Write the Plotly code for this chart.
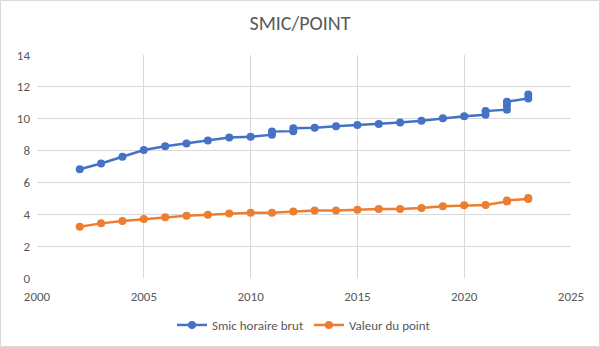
import plotly.graph_objects as go

# Data
smic_years = [2002, 2003, 2004, 2005, 2006, 2007, 2008, 2009, 2010, 2011, 2011,
              2012, 2012, 2013, 2014, 2015, 2016, 2017, 2018, 2019, 2020,
              2021, 2021, 2022, 2022, 2022, 2023, 2023]
smic_values = [6.83, 7.19, 7.61, 8.03, 8.27, 8.44, 8.63, 8.82, 8.86, 9.00, 9.19,
               9.22, 9.40, 9.43, 9.53, 9.61, 9.67, 9.76, 9.88, 10.03, 10.15,
               10.25, 10.48, 10.57, 10.85, 11.07, 11.27, 11.52]

point_years = [2002, 2003, 2004, 2005, 2006, 2007, 2008, 2009, 2010, 2011,
               2012, 2013, 2014, 2015, 2016, 2017, 2018, 2019, 2020, 2021,
               2022, 2022, 2023, 2023]
point_values = [3.22, 3.43, 3.58, 3.70, 3.81, 3.91, 3.97, 4.05, 4.10, 4.10,
                4.18, 4.23, 4.24, 4.29, 4.33, 4.33, 4.39, 4.51, 4.56, 4.59,
                4.81, 4.87, 4.96, 5.03]

x_ticks = [2000, 2005, 2010, 2015, 2020, 2025]
y_ticks = [0, 2, 4, 6, 8, 10, 12, 14]

FONT = "Carlito, Calibri, Lato, sans-serif"
GRAY = "#595959"

fig = go.Figure()
fig.add_trace(go.Scatter(
    x=smic_years, y=smic_values, mode="lines+markers", name="Smic horaire brut",
    line=dict(color="#4472C4", width=2.5),
    marker=dict(color="#4472C4", size=8),
))
fig.add_trace(go.Scatter(
    x=point_years, y=point_values, mode="lines+markers", name="Valeur du point",
    line=dict(color="#ED7D31", width=2.5),
    marker=dict(color="#ED7D31", size=8),
))

L, R, T, B = 37, 29, 55, 69
W, H = 600, 347
pw, ph = W - L - R, H - T - B

fig.update_layout(
    width=W, height=H,
    margin=dict(l=L, r=R, t=T, b=B, autoexpand=False),
    paper_bgcolor="white", plot_bgcolor="white",
    font=dict(family=FONT, color=GRAY, size=13),
    title=dict(text="SMIC/POINT", x=0.5, xanchor="center", y=1 - 23 / H,
               yanchor="middle", font=dict(size=20, color=GRAY, family=FONT)),
    xaxis=dict(range=[2000, 2025], tickvals=x_ticks, showgrid=True,
               gridcolor="#D9D9D9", gridwidth=1, zeroline=False,
               showline=False, ticks="", tickfont=dict(size=13, color=GRAY),
               ticklabelstandoff=9),
    yaxis=dict(range=[0, 14], tickvals=y_ticks, showgrid=True,
               gridcolor="#D9D9D9", gridwidth=1, zeroline=False,
               showline=False, ticks="", tickfont=dict(size=13, color=GRAY),
               ticklabelstandoff=6),
    legend=dict(orientation="h", x=0.5, xanchor="center",
                y=-(325 - (H - B)) / ph, yanchor="middle",
                font=dict(size=13, color=GRAY), itemwidth=30),
    showlegend=True,
    shapes=[dict(type="rect", xref="paper", yref="paper",
                 x0=-(L - 0.5) / pw, x1=1 + (R - 0.5) / pw,
                 y0=-(B - 0.5) / ph, y1=1 + (T - 0.5) / ph,
                 line=dict(color="#D9D9D9", width=1), layer="below")],
)

fig.write_html("out.html")
